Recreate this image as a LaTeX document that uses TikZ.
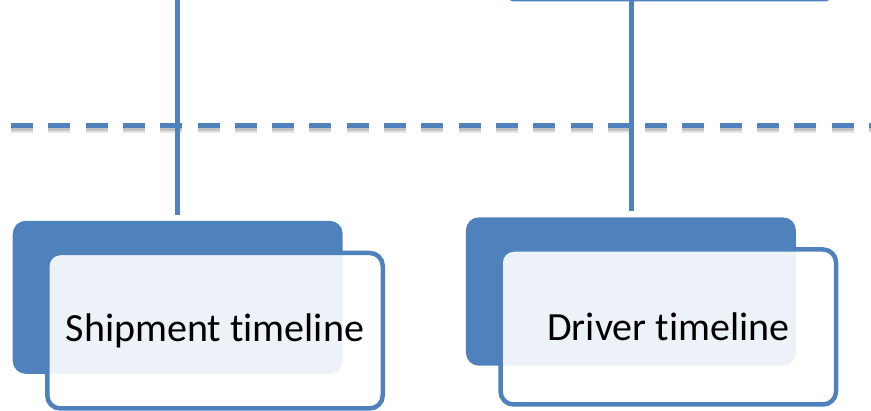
\documentclass[tikz,border=0pt]{standalone}
\usepackage{fontspec}
\setmainfont{Carlito}[RawFeature={-liga}]
\definecolor{accent}{HTML}{4F81BD}
\begin{document}
\begin{tikzpicture}[x=1pt,y=-1pt,
  backbox/.style={fill=accent, draw=none, rounded corners=13pt, minimum width=330pt, inner sep=0pt, outer sep=0pt},
  frontbox/.style={draw=accent, line width=4.5pt, fill=white, fill opacity=0.9, text opacity=1, rounded corners=13pt,
     minimum width=335.5pt, minimum height=155.5pt, inner sep=0pt, outer sep=0pt,
     font=\fontsize{40}{48}\selectfont, text=black},
  conn/.style={draw=accent, line width=4.6pt},
  sep/.style={draw=accent, line width=5pt, dash pattern=on 22pt off 15.3pt},
  sepshadow/.style={draw=black, line width=5pt, dash pattern=on 22pt off 15.3pt}]
\useasboundingbox (0,0) rectangle (871,411);
% partially visible box at the top
\node[draw=accent, line width=3pt, rounded corners=3pt, minimum width=319pt, minimum height=80pt, inner sep=0pt, outer sep=0pt] (top) at (669.5,-40.2) {};
% separator
\coordinate (sepL) at (11,126);
\coordinate (sepR) at (871,126);
\draw[sepshadow, draw opacity=0.10, line width=7pt] ([yshift=-4pt]sepL) -- ([yshift=-4pt]sepR);
\draw[sepshadow, draw opacity=0.15] ([yshift=-3pt]sepL) -- ([yshift=-3pt]sepR);
\draw[sep] (sepL) -- (sepR);
% boxes
\node[backbox, minimum height=153pt] (backL) at (177.7,297.3) {};
\node[frontbox] (frontL) at (215,330.7) {Shipment timeline};
\node[backbox, minimum height=148.4pt] (backR) at (630.9,291.5) {};
\node[frontbox, minimum height=155pt] (frontR) at (668.3,327) {Driver timeline};
% connectors
\coordinate (tL) at (177.5,0);
\coordinate (tR) at (631.3,0);
\draw[conn] (tL) -- ([yshift=6pt]backL.north -| tL);
\draw[conn] (tR) -- ([yshift=6pt]backR.north -| tR);
\end{tikzpicture}
\end{document}
